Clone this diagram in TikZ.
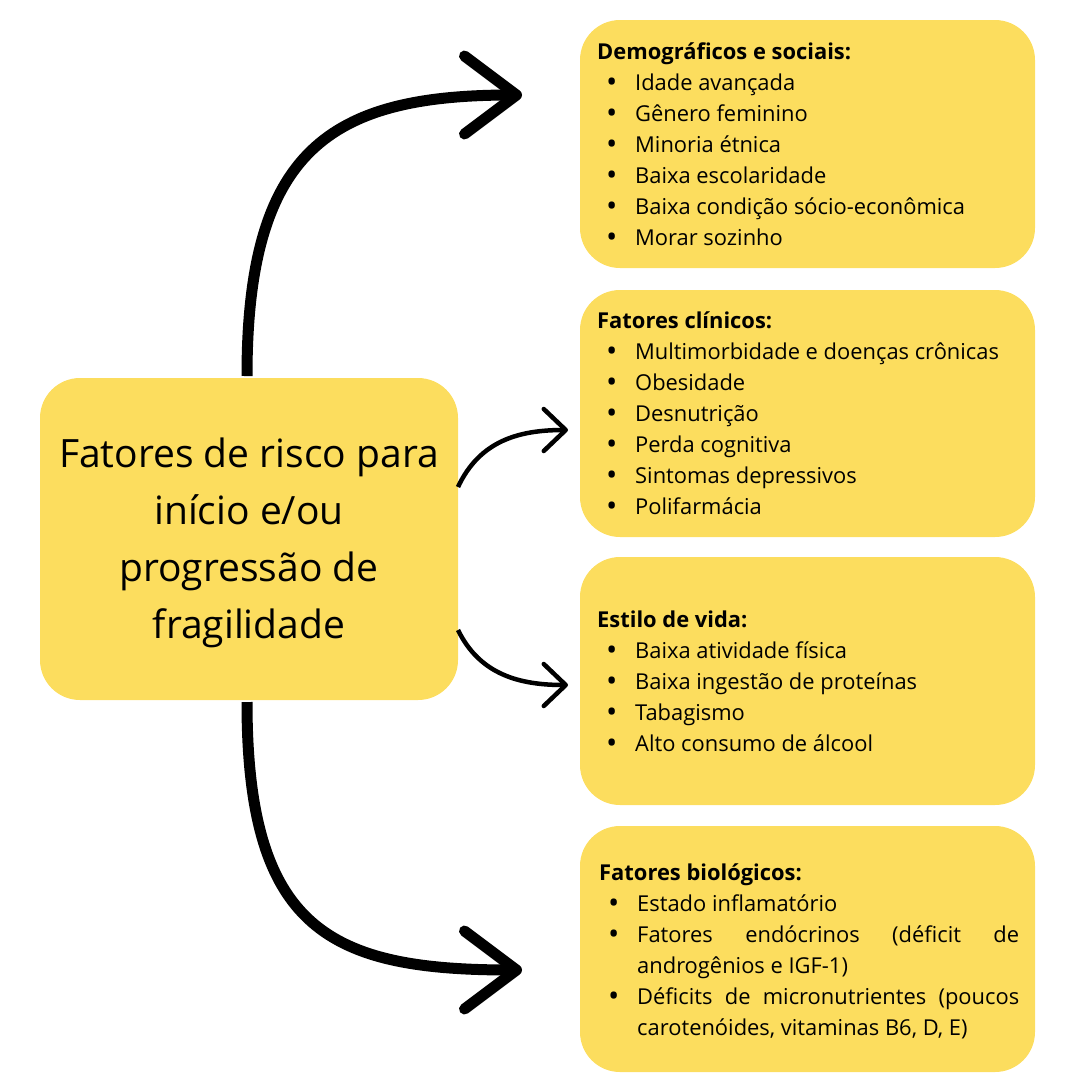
\documentclass[tikz,border=0pt]{standalone}
\usepackage{fontspec}
\setmainfont{Open Sans}
\usetikzlibrary{arrows.meta}
\definecolor{yel}{HTML}{FCDD5E}
\newcommand{\nohyph}{\hyphenpenalty=10000\exhyphenpenalty=10000\relax}
\newcommand{\itm}[1]{\par\noindent\hangindent=38pt\hangafter=1\makebox[38pt][l]{\hspace{9pt}{\fontsize{30}{31}\selectfont\raisebox{-2pt}{\textbullet}}}#1}
\begin{document}
\begin{tikzpicture}[x=1pt,y=-1pt,
  box/.style={fill=yel,rounded corners=40pt},
  lst/.style={anchor=north west,text width=420pt,inner sep=0pt,font=\fontsize{21.9}{31}\selectfont\nohyph,align=justify},
  thick arr/.style={line width=11pt,-{Straight Barb[length=52pt,width=78pt,line width=11pt,round]}},
  thin arr/.style={line width=4.5pt,-{Straight Barb[length=22pt,width=42pt,line width=4.5pt,round]}}]
\useasboundingbox (0,0) rectangle (1080,1080);
\fill[box] (40,378) rectangle (458,700);
\fill[box] (580,20) rectangle (1035,268);
\fill[box] (580,290) rectangle (1035,537);
\fill[box] (580,557) rectangle (1035,805);
\fill[box] (580,826) rectangle (1035,1072);
\node[align=center,font=\fontsize{39}{57}\selectfont] (c) at (249,543) {Fatores de risco para\\início e/ou\\progressão de\\fragilidade};
\node[lst] (b1) at (597,43) {\textbf{Demográficos e sociais:}\itm{Idade avançada}\itm{Gênero feminino}\itm{Minoria étnica}\itm{Baixa escolaridade}\itm{Baixa condição sócio-econômica}\itm{Morar sozinho}\par};
\node[lst] (b2) at (597,312) {\textbf{Fatores clínicos:}\itm{Multimorbidade e doenças crônicas}\itm{Obesidade}\itm{Desnutrição}\itm{Perda cognitiva}\itm{Sintomas depressivos}\itm{Polifarmácia}\par};
\node[lst] (b3) at (597,611) {\textbf{Estilo de vida:}\itm{Baixa atividade física}\itm{Baixa ingestão de proteínas}\itm{Tabagismo}\itm{Alto consumo de álcool}\par};
\node[lst] (b4) at (599,864) {\textbf{Fatores biológicos:}\itm{Estado inflamatório}\itm{Fatores endócrinos (déficit de androgênios e IGF-1)}\itm{Déficits de micronutrientes (poucos carotenóides, vitaminas B6, D, E)}\par};
\coordinate (t1) at (522,95);
\coordinate (t2) at (568,430);
\coordinate (t3) at (568,685);
\coordinate (t4) at (522,970);
\draw[thick arr] (247,376) .. controls (247,150) and (330,95) .. (t1);
\draw[thick arr] (247,702) .. controls (247,930) and (330,970) .. (t4);
\draw[thin arr] (458,487) .. controls (480,440) and (520,430) .. (t2);
\draw[thin arr] (458,630) .. controls (480,675) and (520,685) .. (t3);
\end{tikzpicture}
\end{document}
